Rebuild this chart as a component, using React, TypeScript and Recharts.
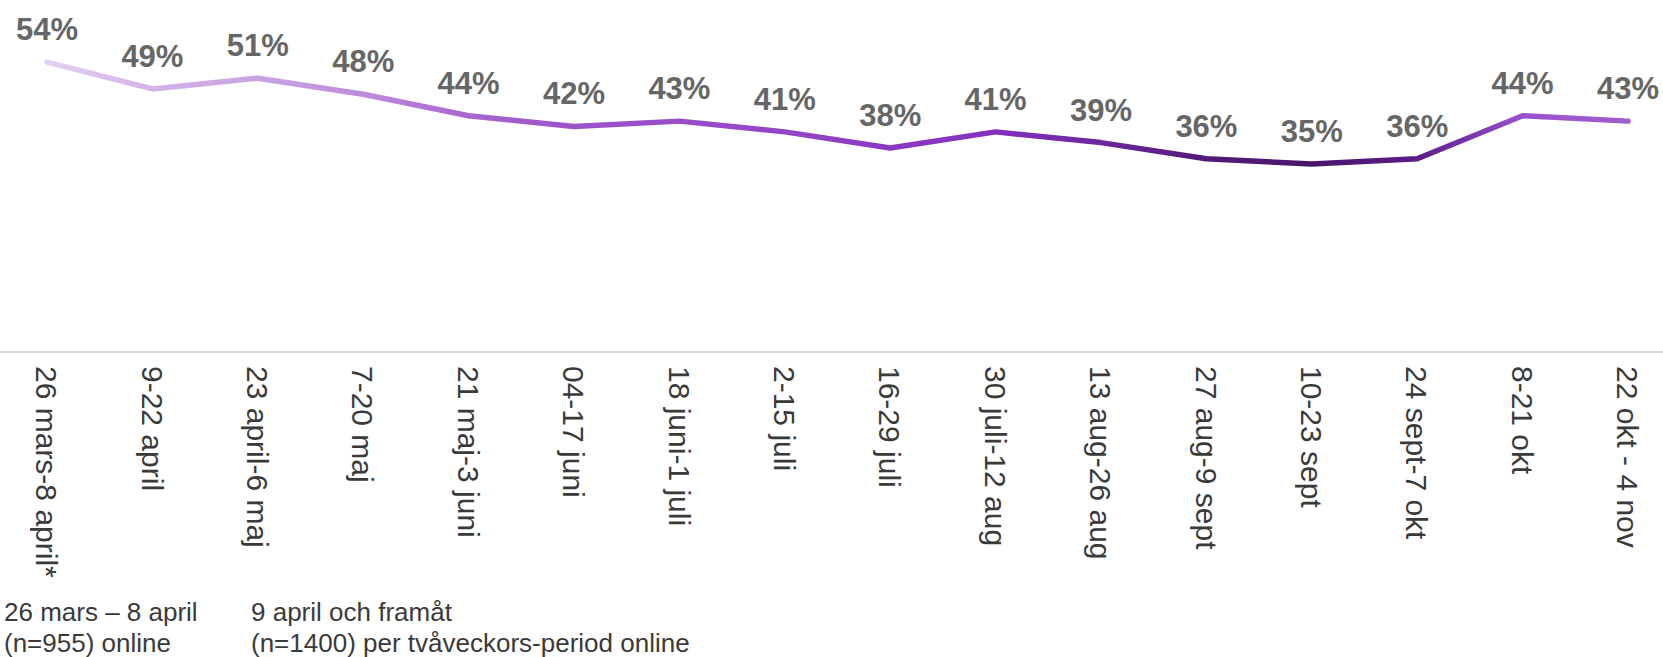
import { LineChart, Line, XAxis, YAxis, LabelList } from 'recharts';

const periods = [
  '26 mars-8 april*',
  '9-22 april',
  '23 april-6 maj',
  '7-20 maj',
  '21 maj-3 juni',
  '04-17 juni',
  '18 juni-1 juli',
  '2-15 juli',
  '16-29 juli',
  '30 juli-12 aug',
  '13 aug-26 aug',
  '27 aug-9 sept',
  '10-23 sept',
  '24 sept-7 okt',
  '8-21 okt',
  '22 okt - 4 nov',
];

const shares = [54, 49, 51, 48, 44, 42, 43, 41, 38, 41, 39, 36, 35, 36, 44, 43];

const noteFirst = ['26 mars – 8 april', '(n=955) online'];
const noteRest = ['9 april och framåt', '(n=1400) per tvåveckors-period online'];

const data = periods.map((period, i) => ({ period, share: shares[i] }));

const FONT = '"Liberation Sans", Arial, sans-serif';

// colour shifts along the line, light lilac -> deep purple -> violet
const lineStops = [
  { at: 0.028, color: '#e4cff2' },
  { at: 0.092, color: '#d3b3e9' },
  { at: 0.155, color: '#caa2e3' },
  { at: 0.218, color: '#bd8cdc' },
  { at: 0.28, color: '#a866d0' },
  { at: 0.345, color: '#9c53c9' },
  { at: 0.41, color: '#994ec8' },
  { at: 0.472, color: '#9346c5' },
  { at: 0.535, color: '#8a3ac1' },
  { at: 0.599, color: '#8231bd' },
  { at: 0.662, color: '#6c279d' },
  { at: 0.725, color: '#54197a' },
  { at: 0.789, color: '#4a166b' },
  { at: 0.852, color: '#5c1c88' },
  { at: 0.915, color: '#9a50cc' },
  { at: 0.979, color: '#a35dcf' },
];

const PeriodTick = (props: any) => {
  const { x, payload } = props;
  const y = 366;
  return (
    <text
      x={x}
      y={y}
      dy="0.36em"
      transform={`rotate(90, ${x}, ${y})`}
      textAnchor="start"
      fill="#3a3a3a"
      fontSize={30}
      fontFamily={FONT}
    >
      {payload.value}
    </text>
  );
};

const noteStyle: React.CSSProperties = {
  position: 'absolute',
  top: 597,
  fontFamily: FONT,
  fontSize: 26,
  lineHeight: '31px',
  color: '#3a3a3a',
  whiteSpace: 'nowrap',
};

export default function App() {
  return (
    <div style={{ position: 'absolute', left: 0, top: 0, width: 1663, height: 657, background: '#fff' }}>
      <LineChart
        width={1663}
        height={657}
        data={data}
        margin={{ top: 3, right: 0, bottom: 85, left: 0 }}
      >
        <defs>
          <linearGradient id="trend" gradientUnits="userSpaceOnUse" x1={0} y1={0} x2={1663} y2={0}>
            {lineStops.map((s) => (
              <stop key={s.at} offset={s.at} stopColor={s.color} />
            ))}
          </linearGradient>
        </defs>
        <XAxis
          dataKey="period"
          interval={0}
          height={220}
          padding={{ left: 47, right: 35 }}
          axisLine={{ stroke: '#d9d9d9', strokeWidth: 2 }}
          tickLine={false}
          tick={<PeriodTick />}
        />
        <YAxis hide domain={[0, 65]} />
        <Line
          type="linear"
          dataKey="share"
          stroke="url(#trend)"
          strokeWidth={5.5}
          strokeLinecap="round"
          strokeLinejoin="round"
          dot={false}
          activeDot={false}
          isAnimationActive={false}
        >
          <LabelList
            dataKey="share"
            position="top"
            offset={22}
            formatter={(v: any) => `${v}%`}
            style={{ fill: '#666666', fontSize: 31, fontWeight: 'bold', fontFamily: FONT }}
          />
        </Line>
      </LineChart>
      <div style={{ ...noteStyle, left: 4 }}>
        {noteFirst.map((t) => (
          <div key={t}>{t}</div>
        ))}
      </div>
      <div style={{ ...noteStyle, left: 251 }}>
        {noteRest.map((t) => (
          <div key={t}>{t}</div>
        ))}
      </div>
    </div>
  );
}
